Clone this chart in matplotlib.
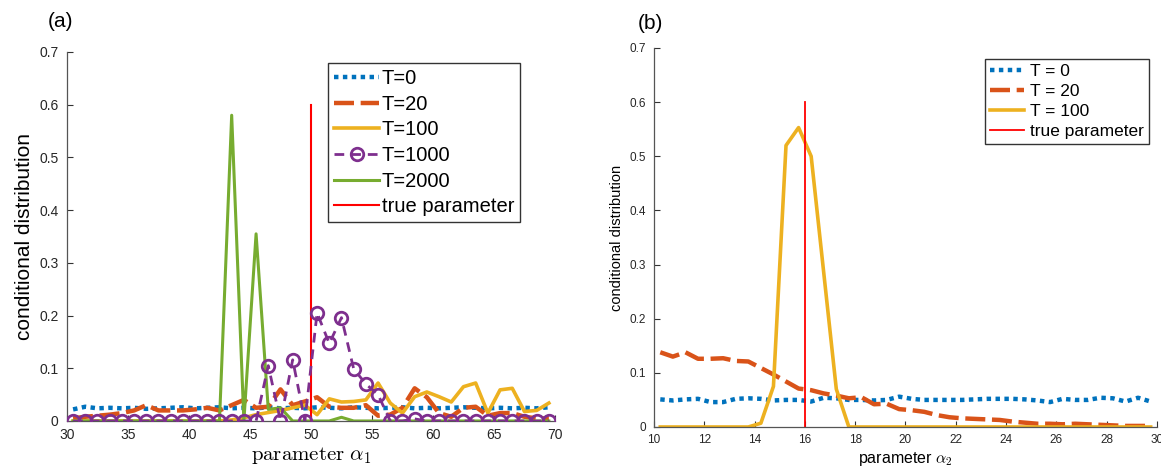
import numpy as np
import matplotlib.pyplot as plt

plt.rcParams['font.family'] = ['Liberation Sans', 'DejaVu Sans']
plt.rcParams['mathtext.fontset'] = 'cm'

# ---- panel (a) data ----
alpha1 = np.arange(30.5, 70, 1.0)
a_T0 = [0.022, 0.027, 0.024, 0.025, 0.024, 0.025, 0.023, 0.024, 0.025, 0.026,
        0.024, 0.025, 0.026, 0.024, 0.025, 0.024, 0.026, 0.024, 0.025, 0.024,
        0.026, 0.025, 0.024, 0.026, 0.025, 0.024, 0.025, 0.026, 0.024, 0.025,
        0.024, 0.025, 0.026, 0.025, 0.024, 0.025, 0.024, 0.025, 0.024, 0.026]
a_T20 = [0.005, 0.008, 0.010, 0.012, 0.015, 0.020, 0.030, 0.020, 0.020, 0.020,
         0.022, 0.025, 0.020, 0.030, 0.040, 0.025, 0.027, 0.060, 0.030, 0.037,
         0.045, 0.027, 0.025, 0.025, 0.030, 0.010, 0.012, 0.025, 0.062, 0.045,
         0.015, 0.008, 0.025, 0.027, 0.010, 0.015, 0.015, 0.008, 0.005, 0.005]
a_T100 = [0, 0, 0, 0, 0, 0, 0, 0, 0, 0,
          0, 0, 0, 0.002, 0.006, 0.012, 0.016, 0.020, 0.025, 0.030,
          0.012, 0.042, 0.036, 0.037, 0.040, 0.072, 0.034, 0.015, 0.046, 0.055,
          0.046, 0.036, 0.065, 0.072, 0.015, 0.059, 0.062, 0.018, 0.020, 0.034]
a_T1000 = [0, 0, 0, 0, 0, 0, 0, 0, 0, 0,
           0, 0, 0, 0, 0, 0, 0.105, 0, 0.116, 0,
           0.205, 0.147, 0.196, 0.099, 0.070, 0.050, 0, 0, 0.004, 0,
           0, 0, 0, 0, 0, 0, 0, 0, 0, 0]
a_T2000 = [0, 0, 0, 0, 0, 0, 0, 0, 0, 0,
           0, 0, 0, 0.58, 0, 0.355, 0.022, 0.025, 0, 0,
           0, 0, 0.007, 0, 0, 0, 0, 0, 0, 0,
           0, 0, 0, 0, 0, 0, 0, 0, 0, 0]
true_a = 50

# ---- panel (b) data ----
alpha2 = np.arange(10.25, 30, 0.5)
b_T0 = [0.051, 0.049, 0.051, 0.052, 0.046, 0.046, 0.052, 0.053, 0.052, 0.049,
        0.050, 0.050, 0.047, 0.054, 0.053, 0.050, 0.050, 0.049, 0.050, 0.056,
        0.052, 0.050, 0.050, 0.050, 0.050, 0.051, 0.052, 0.052, 0.052, 0.051,
        0.049, 0.046, 0.052, 0.050, 0.050, 0.054, 0.053, 0.047, 0.054, 0.047]
b_T20 = [0.138, 0.130, 0.138, 0.126, 0.126, 0.127, 0.122, 0.121, 0.109, 0.097,
         0.084, 0.071, 0.068, 0.062, 0.058, 0.053, 0.055, 0.042, 0.043, 0.033,
         0.031, 0.028, 0.022, 0.018, 0.016, 0.015, 0.014, 0.013, 0.010, 0.008,
         0.006, 0.006, 0.005, 0.006, 0.005, 0.004, 0.003, 0.002, 0.002, 0.002]
b_T100 = [0, 0, 0, 0, 0, 0, 0, 0, 0.007, 0.075,
          0.52, 0.553, 0.50, 0.285, 0.07, 0, 0, 0, 0, 0,
          0, 0, 0, 0, 0, 0, 0, 0, 0, 0,
          0, 0, 0, 0, 0, 0, 0, 0, 0, 0]
true_b = 16

blue, orange, yellow = '#0072BD', '#D95319', '#EDB120'
purple, green = '#7E2F8E', '#77AC30'
axcol = '#555555'


def style_axes(ax, tsize):
    for s in ['top', 'right']:
        ax.spines[s].set_visible(False)
    for s in ['left', 'bottom']:
        ax.spines[s].set_color(axcol)
        ax.spines[s].set_linewidth(0.9)
    ax.tick_params(direction='in', length=4, width=0.8, color='#333333',
                   labelcolor='#262626', labelsize=tsize, pad=6)
    ax.set_ylim(0, 0.7)
    ax.set_yticks(np.arange(0, 0.71, 0.1))
    ax.set_yticklabels(['0', '0.1', '0.2', '0.3', '0.4', '0.5', '0.6', '0.7'])


fig = plt.figure(figsize=(11.61, 4.70), dpi=100)

# (a)
ax1 = fig.add_axes([0.0577, 0.1043, 0.4203, 0.7851])
l0, = ax1.plot(alpha1, a_T0, color=blue, lw=3.2, label='T=0')
l0.set_dashes([1, 1])
l0.set_dash_capstyle('butt')
l1, = ax1.plot(alpha1, a_T20, color=orange, lw=3.2, label='T=20')
l1.set_dashes([4.5, 1.5])
l1.set_dash_capstyle('butt')
ax1.plot(alpha1, a_T100, color=yellow, lw=2.6, label='T=100')
l3, = ax1.plot(alpha1, a_T1000, color=purple, lw=2.0, marker='o', ms=9,
               mfc='none', mew=2.0, label='T=1000', zorder=4)
l3.set_dashes([3.5, 2.5])
ax1.plot(alpha1, a_T2000, color=green, lw=2.2, label='T=2000')
ax1.plot([true_a, true_a], [0, 0.6], color='red', lw=1.5, label='true parameter')
ax1.set_xlim(30, 70)
ax1.set_xticks(np.arange(30, 71, 5))
style_axes(ax1, 10)
ax1.tick_params(axis='x', pad=5)
ax1.set_xlabel(r'$\mathrm{parameter}\ \alpha_1$', fontsize=15, labelpad=2)
ax1.set_ylabel('conditional distribution', fontsize=15, labelpad=4)
leg1 = ax1.legend(loc='upper left', bbox_to_anchor=(0.515, 0.997), fontsize=14.5,
                  handlelength=2.2, handletextpad=0.15, labelspacing=0.33,
                  borderpad=0.3, fancybox=False, framealpha=1, edgecolor='#333333')
leg1.get_frame().set_linewidth(1.0)
fig.text(0.0517, 0.955, '(a)', fontsize=15, ha='center', va='center')

# (b)
ax2 = fig.add_axes([0.5633, 0.0915, 0.4332, 0.8064])
m0, = ax2.plot(alpha2, b_T0, color=blue, lw=3.2, label='T = 0')
m0.set_dashes([1, 1])
m0.set_dash_capstyle('butt')
m1, = ax2.plot(alpha2, b_T20, color=orange, lw=3.2, label='T = 20')
m1.set_dashes([4.5, 1.5])
m1.set_dash_capstyle('butt')
ax2.plot(alpha2, b_T100, color=yellow, lw=2.6, label='T = 100')
ax2.plot([true_b, true_b], [0, 0.6], color='red', lw=1.3, label='true parameter')
ax2.set_xlim(10, 30)
ax2.set_xticks(np.arange(10, 31, 2))
style_axes(ax2, 8.5)
ax2.tick_params(axis='x', pad=5)
ax2.set_xlabel(r'parameter $\alpha_2$', fontsize=11.5, labelpad=3)
ax2.set_ylabel('conditional distribution', fontsize=10.5, labelpad=4)
leg2 = ax2.legend(loc='upper left', bbox_to_anchor=(0.64, 0.995), fontsize=12.5,
                  handlelength=2.0, handletextpad=0.3, labelspacing=0.28,
                  borderpad=0.3, fancybox=False, framealpha=1, edgecolor='#333333')
leg2.get_frame().set_linewidth(1.0)
fig.text(0.56, 0.949, '(b)', fontsize=15, ha='center', va='center')

fig.savefig('out.png', dpi=100)
